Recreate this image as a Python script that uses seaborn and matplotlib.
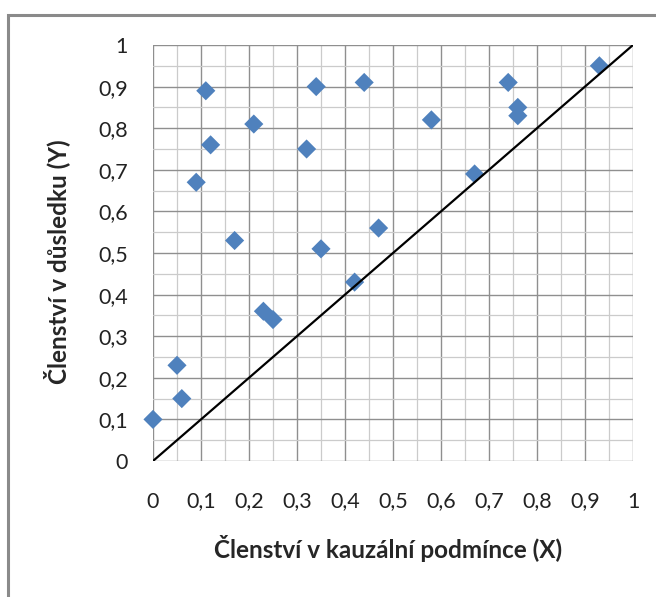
import matplotlib
matplotlib.use("Agg")
import matplotlib.pyplot as plt
import seaborn as sns
import pandas as pd
from matplotlib.patches import Rectangle

# ---- data ----
x_vals = [0.00, 0.05, 0.06, 0.09, 0.11, 0.12, 0.17, 0.21, 0.23, 0.25, 0.32,
          0.34, 0.35, 0.42, 0.44, 0.47, 0.58, 0.67, 0.74, 0.76, 0.76, 0.93]
y_vals = [0.10, 0.23, 0.15, 0.67, 0.89, 0.76, 0.53, 0.81, 0.36, 0.34, 0.75,
          0.90, 0.51, 0.43, 0.91, 0.56, 0.82, 0.69, 0.91, 0.85, 0.83, 0.95]
diag_x = [0, 1]
diag_y = [0, 1]
tick_vals = [0, 0.1, 0.2, 0.3, 0.4, 0.5, 0.6, 0.7, 0.8, 0.9, 1]
tick_labels = ["0", "0,1", "0,2", "0,3", "0,4", "0,5", "0,6", "0,7", "0,8", "0,9", "1"]
x_label = "Členství v kauzální podmínce (X)"
y_label = "Členství v důsledku (Y)"

sns.set_style("white")
plt.rcParams['font.family'] = ['Lato', 'DejaVu Sans']

fig = plt.figure(figsize=(6.56, 5.97), dpi=100)
ax = fig.add_axes([153/656, 1 - 461/597, 480/656, 416/597])

df = pd.DataFrame({"x": x_vals, "y": y_vals})
sns.scatterplot(data=df, x="x", y="y", ax=ax, marker="D", s=95,
                color="#4F81BD", edgecolor="none", zorder=3, clip_on=False)
ax.plot(diag_x, diag_y, color="black", lw=1.6, zorder=4, solid_capstyle="butt")

ax.set_xlim(0, 1)
ax.set_ylim(0, 1)
ax.set_xticks(tick_vals)
ax.set_xticklabels(tick_labels)
ax.set_yticks(tick_vals)
ax.set_yticklabels(tick_labels)
minor = [v / 20 for v in range(1, 20, 2)]
ax.set_xticks(minor, minor=True)
ax.set_yticks(minor, minor=True)
ax.grid(which="major", color="#8f8f8f", lw=1.0, zorder=0)
ax.grid(which="minor", color="#cbcbcb", lw=0.9, zorder=0)
ax.set_axisbelow(True)
for s in ax.spines.values():
    s.set_visible(False)
ax.tick_params(which="major", length=6, width=1.0, color="#8f8f8f",
               labelsize=15.5, labelcolor="#222222")
ax.tick_params(axis="y", pad=12)
ax.tick_params(axis="x", pad=16)
ax.tick_params(which="minor", length=0)

ax.set_xlabel(x_label, fontsize=17.5, fontweight="bold")
ax.set_ylabel(y_label, fontsize=17.5, fontweight="bold")
ax.xaxis.set_label_coords(0.49, (461 - 535) / 416)
ax.yaxis.set_label_coords((70 - 153) / 480, 0.478)

fig.patches.append(Rectangle((8/656, -0.1), 1.2, 1 - 15/597 + 0.1,
                             transform=fig.transFigure, fill=False,
                             edgecolor="#8a8a8a", lw=2.2))

fig.savefig("out.png", dpi=100)
